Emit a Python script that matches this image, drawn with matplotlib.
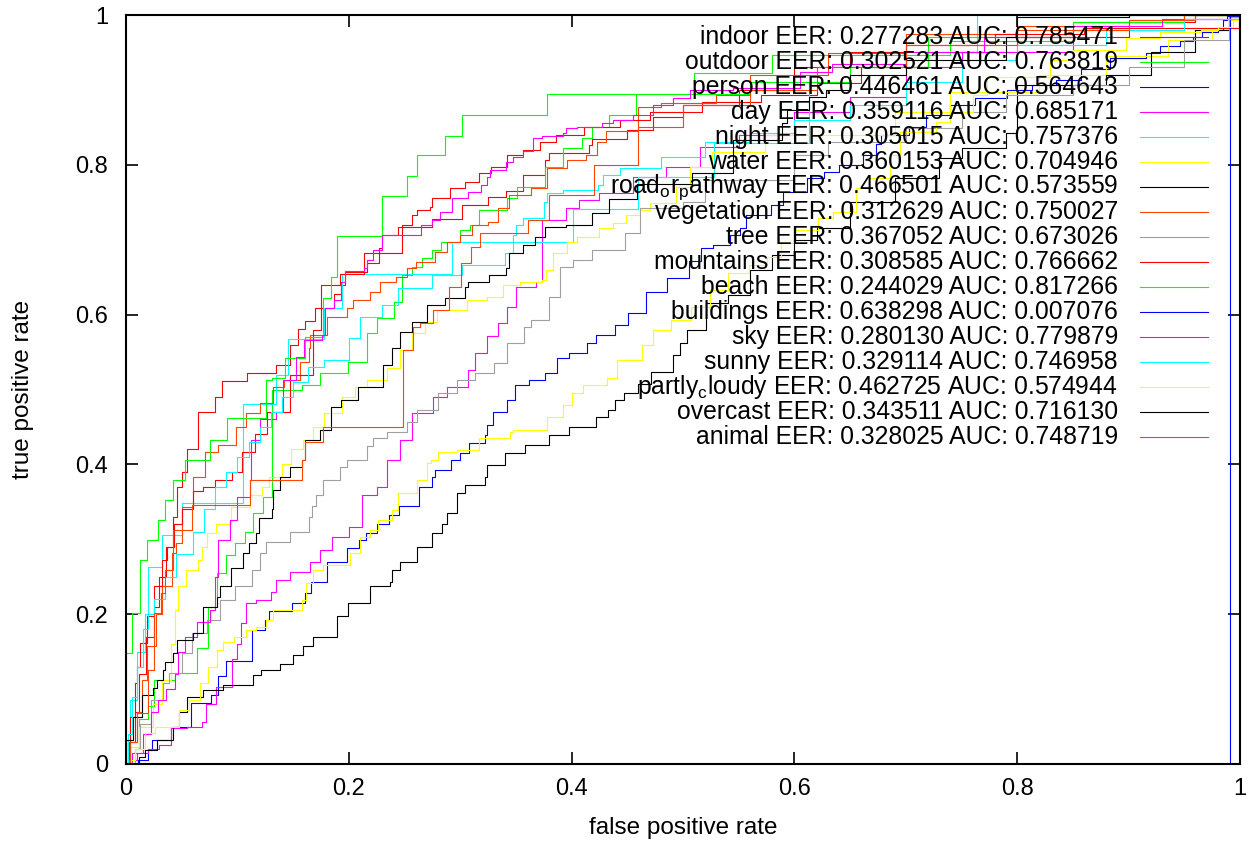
import matplotlib
matplotlib.use("Agg")
import matplotlib.pyplot as plt

plt.rcParams['font.family'] = ['Liberation Sans', 'DejaVu Sans']
plt.rcParams['mathtext.fontset'] = 'custom'
plt.rcParams['mathtext.rm'] = 'Liberation Sans'

# ROC points (false positive rate, true positive rate) per concept
indoor_fpr = [0, 0.003, 0.008, 0.012, 0.018, 0.025, 0.030, 0.036, 0.042, 0.046, 0.050, 0.055, 0.065, 0.080, 0.086, 0.109, 0.135, 0.147, 0.154, 0.161, 0.170, 0.187, 0.193, 0.197, 0.216, 0.227, 0.230, 0.244, 0.275, 0.302, 0.325, 0.341, 0.356, 0.376, 0.380, 0.416, 0.418, 0.450, 0.473, 0.500, 0.517, 0.570, 0.620, 0.660, 0.720, 0.800, 0.900, 0.960, 1.0]
indoor_tpr = [0, 0.030, 0.070, 0.120, 0.170, 0.210, 0.250, 0.290, 0.330, 0.370, 0.390, 0.420, 0.470, 0.490, 0.511, 0.522, 0.533, 0.559, 0.581, 0.591, 0.609, 0.628, 0.640, 0.657, 0.669, 0.689, 0.706, 0.717, 0.728, 0.746, 0.757, 0.765, 0.786, 0.806, 0.816, 0.826, 0.835, 0.846, 0.864, 0.870, 0.884, 0.893, 0.909, 0.930, 0.950, 0.970, 0.990, 1.0, 1.0]

outdoor_fpr = [0, 0.008, 0.012, 0.020, 0.025, 0.044, 0.064, 0.064, 0.074, 0.074, 0.082, 0.090, 0.090, 0.098, 0.107, 0.114, 0.123, 0.131, 0.131, 0.158, 0.174, 0.199, 0.216, 0.216, 0.225, 0.241, 0.248, 0.257, 0.266, 0.275, 0.283, 0.300, 0.309, 0.317, 0.342, 0.351, 0.376, 0.392, 0.409, 0.418, 0.434, 0.458, 0.510, 0.580, 0.740, 0.850, 0.950, 1.0]
outdoor_tpr = [0, 0.020, 0.060, 0.077, 0.112, 0.121, 0.122, 0.155, 0.155, 0.210, 0.255, 0.255, 0.279, 0.295, 0.310, 0.335, 0.357, 0.360, 0.500, 0.506, 0.522, 0.537, 0.542, 0.575, 0.595, 0.617, 0.653, 0.664, 0.675, 0.686, 0.697, 0.713, 0.720, 0.740, 0.756, 0.771, 0.797, 0.823, 0.836, 0.851, 0.866, 0.894, 0.923, 0.947, 0.965, 0.990, 1.0, 1.0]

person_fpr = [0, 0.011, 0.020, 0.023, 0.040, 0.058, 0.076, 0.083, 0.090, 0.113, 0.125, 0.128, 0.149, 0.161, 0.166, 0.180, 0.198, 0.209, 0.215, 0.225, 0.236, 0.245, 0.263, 0.275, 0.277, 0.292, 0.300, 0.308, 0.322, 0.324, 0.329, 0.342, 0.349, 0.362, 0.376, 0.387, 0.398, 0.414, 0.422, 0.439, 0.451, 0.467, 0.486, 0.505, 0.516, 0.527, 0.542, 0.551, 0.557, 0.579, 0.590, 0.611, 0.627, 0.640, 0.662, 0.673, 0.678, 0.703, 0.718, 0.740, 0.762, 0.791, 0.813, 0.835, 0.857, 0.883, 0.916, 0.928, 0.946, 0.958, 0.966, 0.980, 0.985, 0.988, 1.0]
person_tpr = [0, 0.005, 0.019, 0.032, 0.050, 0.081, 0.092, 0.117, 0.137, 0.179, 0.192, 0.204, 0.215, 0.228, 0.243, 0.270, 0.288, 0.299, 0.308, 0.321, 0.332, 0.344, 0.370, 0.383, 0.393, 0.406, 0.415, 0.428, 0.439, 0.453, 0.470, 0.486, 0.506, 0.513, 0.522, 0.542, 0.549, 0.562, 0.573, 0.586, 0.602, 0.630, 0.649, 0.671, 0.689, 0.693, 0.706, 0.716, 0.733, 0.746, 0.764, 0.782, 0.791, 0.800, 0.813, 0.828, 0.840, 0.851, 0.866, 0.880, 0.889, 0.900, 0.906, 0.913, 0.928, 0.943, 0.949, 0.958, 0.965, 0.971, 0.977, 0.980, 0.993, 0.998, 1.0]

day_fpr = [0, 0.003, 0.010, 0.020, 0.030, 0.040, 0.055, 0.068, 0.072, 0.081, 0.095, 0.100, 0.103, 0.108, 0.117, 0.130, 0.135, 0.147, 0.165, 0.174, 0.185, 0.200, 0.212, 0.225, 0.234, 0.246, 0.257, 0.276, 0.288, 0.307, 0.313, 0.324, 0.334, 0.342, 0.350, 0.368, 0.373, 0.395, 0.407, 0.425, 0.455, 0.485, 0.515, 0.550, 0.600, 0.650, 0.700, 0.750, 0.850, 0.950, 1.0]
day_tpr = [0, 0.005, 0.015, 0.020, 0.025, 0.048, 0.050, 0.056, 0.080, 0.103, 0.140, 0.160, 0.188, 0.215, 0.219, 0.230, 0.246, 0.257, 0.270, 0.286, 0.303, 0.317, 0.359, 0.370, 0.406, 0.433, 0.468, 0.490, 0.504, 0.526, 0.549, 0.571, 0.589, 0.610, 0.637, 0.644, 0.726, 0.742, 0.753, 0.762, 0.784, 0.797, 0.824, 0.840, 0.870, 0.890, 0.930, 0.950, 0.980, 0.995, 1.0]

night_fpr = [0, 0.002, 0.004, 0.010, 0.017, 0.020, 0.032, 0.032, 0.050, 0.050, 0.105, 0.105, 0.128, 0.135, 0.145, 0.178, 0.178, 0.194, 0.194, 0.275, 0.293, 0.401, 0.401, 0.460, 0.460, 0.528, 0.528, 0.613, 0.613, 0.650, 0.720, 0.764, 0.764, 1.0]
night_tpr = [0, 0.030, 0.085, 0.150, 0.200, 0.263, 0.263, 0.306, 0.306, 0.348, 0.348, 0.480, 0.480, 0.520, 0.567, 0.567, 0.609, 0.609, 0.654, 0.654, 0.697, 0.697, 0.741, 0.741, 0.784, 0.784, 0.829, 0.829, 0.911, 0.930, 0.950, 0.963, 1.0, 1.0]

water_fpr = [0, 0.004, 0.012, 0.024, 0.032, 0.040, 0.044, 0.047, 0.054, 0.065, 0.068, 0.073, 0.081, 0.094, 0.111, 0.122, 0.128, 0.140, 0.148, 0.159, 0.168, 0.178, 0.194, 0.206, 0.216, 0.234, 0.246, 0.257, 0.268, 0.279, 0.306, 0.324, 0.338, 0.354, 0.373, 0.377, 0.383, 0.396, 0.405, 0.425, 0.437, 0.449, 0.461, 0.470, 0.494, 0.506, 0.526, 0.574, 0.690, 0.740, 0.820, 0.880, 0.935, 0.975, 0.990, 1.0]
water_tpr = [0, 0.023, 0.050, 0.080, 0.112, 0.160, 0.206, 0.237, 0.259, 0.272, 0.290, 0.308, 0.321, 0.343, 0.359, 0.370, 0.383, 0.401, 0.421, 0.433, 0.450, 0.468, 0.490, 0.504, 0.513, 0.529, 0.553, 0.575, 0.590, 0.606, 0.620, 0.624, 0.640, 0.644, 0.646, 0.660, 0.682, 0.697, 0.704, 0.716, 0.722, 0.733, 0.740, 0.749, 0.770, 0.797, 0.817, 0.840, 0.871, 0.897, 0.920, 0.945, 0.966, 0.980, 0.993, 1.0]

road_fpr = [0, 0.012, 0.017, 0.028, 0.042, 0.048, 0.055, 0.069, 0.087, 0.114, 0.121, 0.138, 0.150, 0.159, 0.168, 0.189, 0.199, 0.219, 0.237, 0.239, 0.246, 0.261, 0.275, 0.284, 0.288, 0.297, 0.304, 0.322, 0.324, 0.340, 0.358, 0.380, 0.398, 0.422, 0.433, 0.439, 0.447, 0.460, 0.471, 0.491, 0.497, 0.504, 0.521, 0.540, 0.560, 0.580, 0.600, 0.620, 0.650, 0.690, 0.730, 0.750, 0.790, 0.800, 0.880, 0.920, 0.960, 0.990, 1.0]
road_tpr = [0, 0.010, 0.019, 0.032, 0.050, 0.070, 0.090, 0.099, 0.105, 0.119, 0.125, 0.134, 0.146, 0.157, 0.170, 0.197, 0.215, 0.237, 0.243, 0.259, 0.270, 0.290, 0.308, 0.321, 0.335, 0.362, 0.372, 0.383, 0.399, 0.415, 0.426, 0.439, 0.450, 0.463, 0.473, 0.486, 0.495, 0.508, 0.524, 0.546, 0.562, 0.579, 0.615, 0.626, 0.660, 0.680, 0.700, 0.716, 0.750, 0.782, 0.809, 0.822, 0.842, 0.907, 0.920, 0.950, 0.980, 1.0, 1.0]

vegetation_fpr = [0, 0.004, 0.010, 0.014, 0.019, 0.027, 0.032, 0.041, 0.045, 0.050, 0.060, 0.071, 0.083, 0.099, 0.108, 0.120, 0.132, 0.142, 0.156, 0.164, 0.165, 0.180, 0.198, 0.204, 0.219, 0.228, 0.242, 0.252, 0.260, 0.277, 0.288, 0.300, 0.311, 0.325, 0.334, 0.344, 0.364, 0.378, 0.396, 0.413, 0.423, 0.431, 0.460, 0.480, 0.530, 0.560, 0.630, 0.700, 0.800, 0.900, 0.960, 1.0]
vegetation_tpr = [0, 0.030, 0.070, 0.112, 0.157, 0.200, 0.237, 0.282, 0.295, 0.343, 0.383, 0.417, 0.426, 0.450, 0.468, 0.482, 0.504, 0.513, 0.537, 0.555, 0.573, 0.597, 0.609, 0.620, 0.630, 0.644, 0.650, 0.662, 0.670, 0.683, 0.697, 0.706, 0.720, 0.724, 0.742, 0.760, 0.769, 0.796, 0.806, 0.813, 0.830, 0.845, 0.877, 0.882, 0.893, 0.920, 0.949, 0.975, 0.985, 0.993, 1.0, 1.0]

tree_fpr = [0, 0.008, 0.013, 0.022, 0.033, 0.039, 0.050, 0.059, 0.073, 0.084, 0.098, 0.113, 0.120, 0.126, 0.147, 0.164, 0.167, 0.171, 0.177, 0.192, 0.198, 0.216, 0.222, 0.234, 0.252, 0.261, 0.280, 0.297, 0.313, 0.330, 0.342, 0.357, 0.364, 0.380, 0.390, 0.401, 0.418, 0.448, 0.461, 0.500, 0.520, 0.600, 0.630, 0.700, 0.750, 0.790, 0.850, 0.900, 0.950, 0.990, 1.0]
tree_tpr = [0, 0.020, 0.054, 0.085, 0.108, 0.121, 0.148, 0.175, 0.192, 0.219, 0.237, 0.259, 0.282, 0.297, 0.310, 0.330, 0.344, 0.359, 0.379, 0.397, 0.406, 0.424, 0.435, 0.443, 0.457, 0.473, 0.495, 0.513, 0.522, 0.535, 0.562, 0.583, 0.593, 0.624, 0.664, 0.673, 0.686, 0.709, 0.742, 0.750, 0.780, 0.813, 0.830, 0.849, 0.870, 0.893, 0.906, 0.930, 0.967, 0.997, 1.0]

mountains_fpr = [0, 0.002, 0.004, 0.008, 0.010, 0.013, 0.019, 0.025, 0.032, 0.037, 0.043, 0.050, 0.060, 0.069, 0.080, 0.095, 0.104, 0.116, 0.127, 0.147, 0.168, 0.175, 0.192, 0.214, 0.248, 0.257, 0.261, 0.273, 0.275, 0.291, 0.304, 0.317, 0.328, 0.342, 0.356, 0.372, 0.386, 0.411, 0.443, 0.470, 0.500, 0.550, 0.600, 0.650, 0.700, 0.780, 0.860, 0.942, 0.999, 1.0]
mountains_tpr = [0, 0.030, 0.063, 0.108, 0.130, 0.161, 0.197, 0.237, 0.272, 0.290, 0.321, 0.340, 0.364, 0.370, 0.379, 0.390, 0.417, 0.440, 0.470, 0.520, 0.580, 0.639, 0.654, 0.682, 0.720, 0.733, 0.740, 0.744, 0.756, 0.769, 0.777, 0.789, 0.797, 0.813, 0.820, 0.830, 0.840, 0.850, 0.860, 0.870, 0.880, 0.900, 0.930, 0.950, 0.960, 0.975, 0.982, 0.982, 1.0, 1.0]

beach_fpr = [0, 0, 0.005, 0.013, 0.019, 0.029, 0.035, 0.042, 0.053, 0.075, 0.091, 0.126, 0.131, 0.143, 0.161, 0.177, 0.184, 0.189, 0.230, 0.252, 0.261, 0.286, 0.302, 0.378, 0.560, 0.650, 0.720, 0.850, 0.950, 1.0]
beach_tpr = [0, 0.148, 0.201, 0.272, 0.299, 0.326, 0.352, 0.379, 0.406, 0.433, 0.462, 0.513, 0.515, 0.542, 0.570, 0.622, 0.650, 0.705, 0.758, 0.785, 0.813, 0.839, 0.866, 0.894, 0.910, 0.930, 0.970, 0.990, 1.0, 1.0]

buildings_fpr = [0, 0.991, 0.991, 1.0]
buildings_tpr = [0, 0, 1.0, 1.0]

sky_fpr = [0, 0.005, 0.015, 0.022, 0.029, 0.036, 0.044, 0.047, 0.053, 0.064, 0.075, 0.080, 0.083, 0.093, 0.100, 0.111, 0.112, 0.120, 0.135, 0.141, 0.153, 0.160, 0.176, 0.179, 0.187, 0.193, 0.197, 0.214, 0.216, 0.222, 0.230, 0.265, 0.275, 0.282, 0.293, 0.307, 0.319, 0.324, 0.327, 0.341, 0.347, 0.356, 0.365, 0.373, 0.392, 0.395, 0.405, 0.427, 0.437, 0.455, 0.473, 0.491, 0.506, 0.545, 0.605, 0.634, 0.700, 0.770, 0.850, 0.930, 1.0]
sky_tpr = [0, 0.015, 0.040, 0.070, 0.085, 0.100, 0.120, 0.150, 0.170, 0.190, 0.206, 0.250, 0.299, 0.326, 0.357, 0.379, 0.433, 0.460, 0.470, 0.513, 0.544, 0.566, 0.573, 0.609, 0.620, 0.644, 0.658, 0.662, 0.673, 0.686, 0.706, 0.720, 0.726, 0.737, 0.756, 0.764, 0.773, 0.784, 0.793, 0.804, 0.811, 0.818, 0.836, 0.839, 0.842, 0.849, 0.851, 0.856, 0.860, 0.866, 0.880, 0.889, 0.900, 0.902, 0.924, 0.935, 0.950, 0.970, 0.985, 0.995, 1.0]

sunny_fpr = [0, 0.002, 0.005, 0.010, 0.015, 0.020, 0.025, 0.035, 0.045, 0.060, 0.070, 0.080, 0.090, 0.100, 0.110, 0.120, 0.130, 0.140, 0.150, 0.163, 0.178, 0.200, 0.210, 0.230, 0.244, 0.275, 0.302, 0.340, 0.347, 0.350, 0.356, 0.375, 0.378, 0.392, 0.424, 0.428, 0.443, 0.480, 0.520, 0.560, 0.600, 0.650, 0.700, 0.750, 0.800, 0.880, 0.950, 1.0]
sunny_tpr = [0, 0.040, 0.090, 0.130, 0.180, 0.200, 0.220, 0.250, 0.280, 0.310, 0.340, 0.370, 0.390, 0.410, 0.430, 0.450, 0.470, 0.490, 0.510, 0.530, 0.540, 0.569, 0.597, 0.613, 0.635, 0.653, 0.666, 0.682, 0.706, 0.720, 0.729, 0.750, 0.762, 0.767, 0.773, 0.786, 0.796, 0.810, 0.830, 0.842, 0.860, 0.880, 0.910, 0.940, 0.960, 0.980, 0.995, 1.0]

partly_fpr = [0, 0.004, 0.008, 0.017, 0.026, 0.048, 0.057, 0.066, 0.074, 0.082, 0.087, 0.097, 0.108, 0.117, 0.126, 0.132, 0.158, 0.162, 0.168, 0.177, 0.201, 0.210, 0.219, 0.226, 0.239, 0.244, 0.261, 0.270, 0.274, 0.280, 0.297, 0.317, 0.345, 0.347, 0.378, 0.392, 0.400, 0.410, 0.432, 0.441, 0.463, 0.473, 0.489, 0.507, 0.524, 0.540, 0.559, 0.575, 0.588, 0.600, 0.621, 0.635, 0.655, 0.667, 0.686, 0.695, 0.727, 0.740, 0.760, 0.773, 0.829, 0.850, 0.898, 0.928, 0.965, 0.980, 0.994, 1.0]
partly_tpr = [0, 0.005, 0.020, 0.041, 0.050, 0.072, 0.085, 0.108, 0.130, 0.152, 0.163, 0.170, 0.179, 0.183, 0.192, 0.206, 0.219, 0.241, 0.259, 0.266, 0.282, 0.303, 0.312, 0.326, 0.339, 0.362, 0.379, 0.402, 0.406, 0.417, 0.419, 0.435, 0.443, 0.446, 0.463, 0.479, 0.495, 0.506, 0.515, 0.539, 0.559, 0.579, 0.593, 0.610, 0.633, 0.655, 0.666, 0.677, 0.695, 0.713, 0.729, 0.737, 0.769, 0.782, 0.813, 0.844, 0.857, 0.870, 0.893, 0.917, 0.940, 0.953, 0.969, 0.977, 0.980, 0.984, 0.993, 1.0]

overcast_fpr = [0, 0.000, 0.006, 0.014, 0.024, 0.028, 0.033, 0.035, 0.042, 0.046, 0.060, 0.069, 0.082, 0.084, 0.094, 0.105, 0.110, 0.117, 0.119, 0.131, 0.132, 0.138, 0.147, 0.158, 0.161, 0.174, 0.184, 0.193, 0.208, 0.231, 0.231, 0.239, 0.246, 0.257, 0.270, 0.286, 0.304, 0.307, 0.326, 0.341, 0.344, 0.356, 0.367, 0.376, 0.395, 0.418, 0.434, 0.459, 0.508, 0.545, 0.589, 0.593, 0.613, 0.628, 0.650, 0.700, 0.790, 0.800, 0.900, 0.900, 1.0]
overcast_tpr = [0, 0.032, 0.063, 0.092, 0.101, 0.112, 0.125, 0.136, 0.148, 0.166, 0.175, 0.210, 0.223, 0.237, 0.262, 0.282, 0.295, 0.308, 0.328, 0.341, 0.366, 0.383, 0.397, 0.406, 0.433, 0.446, 0.477, 0.486, 0.504, 0.513, 0.533, 0.555, 0.577, 0.590, 0.613, 0.622, 0.637, 0.644, 0.653, 0.662, 0.682, 0.693, 0.704, 0.717, 0.720, 0.736, 0.755, 0.775, 0.789, 0.833, 0.856, 0.873, 0.891, 0.900, 0.920, 0.940, 0.970, 0.997, 0.997, 1.0, 1.0]

animal_fpr = [0, 0.004, 0.010, 0.020, 0.025, 0.031, 0.035, 0.042, 0.059, 0.102, 0.111, 0.152, 0.158, 0.161, 0.177, 0.212, 0.249, 0.249, 0.258, 0.264, 0.276, 0.290, 0.301, 0.310, 0.318, 0.361, 0.361, 0.380, 0.420, 0.460, 0.500, 0.560, 0.620, 0.700, 0.800, 0.900, 0.950, 1.0]
animal_tpr = [0, 0.030, 0.068, 0.125, 0.201, 0.228, 0.259, 0.312, 0.346, 0.346, 0.379, 0.379, 0.406, 0.430, 0.450, 0.450, 0.483, 0.553, 0.583, 0.589, 0.606, 0.637, 0.669, 0.690, 0.709, 0.709, 0.726, 0.760, 0.800, 0.850, 0.880, 0.900, 0.930, 0.960, 0.980, 0.993, 1.0, 1.0]

labels = ['indoor', 'outdoor', 'person', 'day', 'night', 'water',
          r'road$_\mathregular{o}$r$_\mathregular{p}$athway', 'vegetation', 'tree',
          'mountains', 'beach', 'buildings', 'sky', 'sunny',
          r'partly$_\mathregular{c}$loudy', 'overcast', 'animal']
eer = ['0.277283', '0.302521', '0.446461', '0.359116', '0.305015', '0.360153',
       '0.466501', '0.312629', '0.367052', '0.308585', '0.244029', '0.638298',
       '0.280130', '0.329114', '0.462725', '0.343511', '0.328025']
auc = ['0.785471', '0.763819', '0.564643', '0.685171', '0.757376', '0.704946',
       '0.573559', '0.750027', '0.673026', '0.766662', '0.817266', '0.007076',
       '0.779879', '0.746958', '0.574944', '0.716130', '0.748719']

curves = [(indoor_fpr, indoor_tpr), (outdoor_fpr, outdoor_tpr), (person_fpr, person_tpr),
          (day_fpr, day_tpr), (night_fpr, night_tpr), (water_fpr, water_tpr),
          (road_fpr, road_tpr), (vegetation_fpr, vegetation_tpr), (tree_fpr, tree_tpr),
          (mountains_fpr, mountains_tpr), (beach_fpr, beach_tpr),
          (buildings_fpr, buildings_tpr), (sky_fpr, sky_tpr), (sunny_fpr, sunny_tpr),
          (partly_fpr, partly_tpr), (overcast_fpr, overcast_tpr), (animal_fpr, animal_tpr)]

# gnuplot-like colour cycle
palette = ['#ff0000', '#00ff00', '#0000ff', '#ff00ff', '#00ffff',
           '#ffff00', '#000000', '#ff4500', '#a0a0a0']

fig = plt.figure(figsize=(12.52, 8.44), dpi=100)
ax = fig.add_axes([126 / 1252, 80 / 844, 1114 / 1252, 749 / 844])

for i, (x, y) in enumerate(curves):
    ax.plot(x, y, drawstyle='steps-post', color=palette[i % 9], lw=0.8)

# key: right-aligned text with a short sample line after it
row0 = (764 - 37) / 749
step = 25 / 749
for i, name in enumerate(labels):
    yk = row0 - i * step
    ax.text(0.8905, yk, f'{name} EER: {eer[i]} AUC: {auc[i]}', transform=ax.transAxes,
            ha='right', va='center', fontsize=17.8)
    ax.plot([0.9102, 0.9713], [yk, yk], transform=ax.transAxes,
            color=palette[i % 9], lw=0.8)

ax.set_xlim(0, 1)
ax.set_ylim(0, 1)
ticks = [0, 0.2, 0.4, 0.6, 0.8, 1]
tick_text = ['0', '0.2', '0.4', '0.6', '0.8', '1']
ax.set_xticks(ticks)
ax.set_xticklabels(tick_text)
ax.set_yticks(ticks)
ax.set_yticklabels(tick_text)
ax.tick_params(direction='in', length=8.5, width=1.2, labelsize=17,
               top=True, right=True)
ax.tick_params(axis='x', pad=10)
ax.tick_params(axis='y', pad=13)
for s in ax.spines.values():
    s.set_linewidth(1.5)

ax.set_xlabel('false positive rate', fontsize=17.5)
ax.set_ylabel('true positive rate', fontsize=17.5)
ax.xaxis.set_label_coords(0.5, -0.071)
ax.yaxis.set_label_coords(-0.083, 0.5)

fig.savefig('out.png', dpi=100)
